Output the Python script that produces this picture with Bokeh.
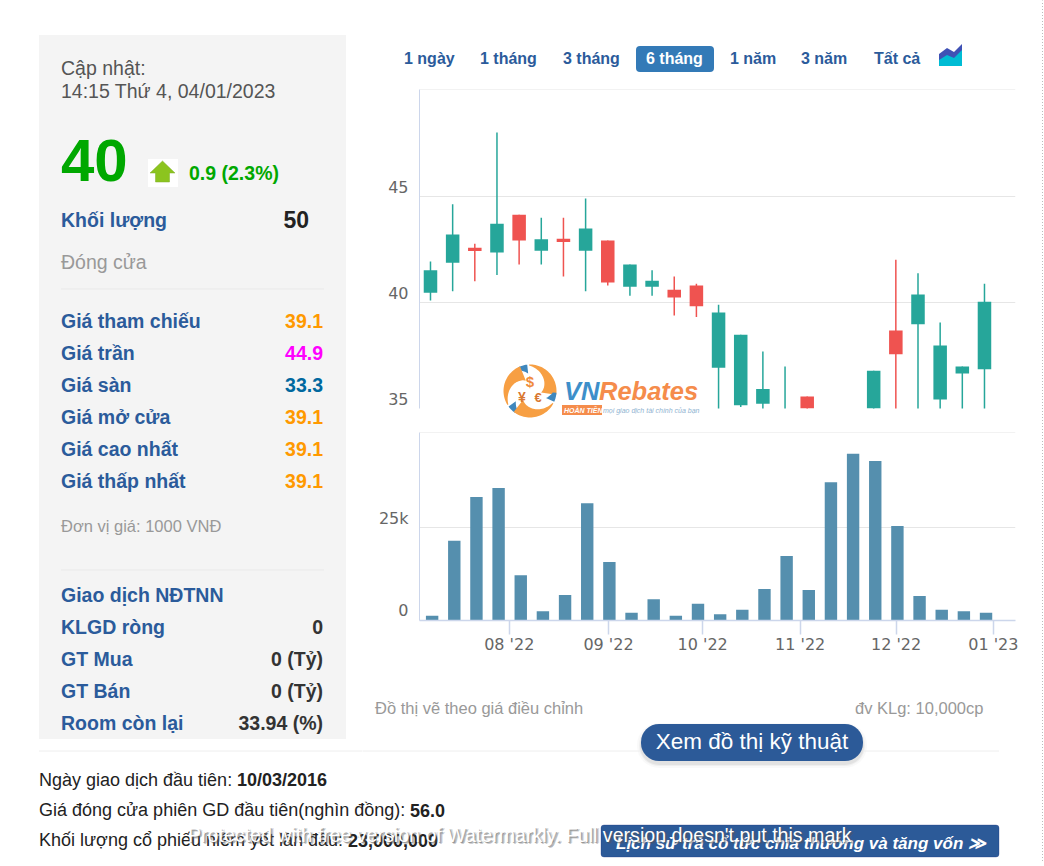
import numpy as np
from bokeh.plotting import figure
from bokeh.layouts import column, row
from bokeh.models import Range1d, FixedTicker, Span, BoxAnnotation, LinearAxis
from bokeh.core.properties import value
from bokeh.embed import file_html
from bokeh.resources import INLINE

# ---------- data ----------
opens  = [40.47,41.89,42.60,42.38,44.16,42.46,43.02,42.46,42.94,40.76,40.76,40.61,40.82,
          36.93,35.15,35.23,33.90,35.57,34.20,33.60,34.20,38.69,38.98,35.43,36.65,36.85]
closes = [41.53,43.23,42.44,43.73,42.94,43.00,42.87,43.51,40.96,41.81,41.04,40.25,39.83,
          39.54,38.49,35.92,34.70,34.60,33.60,33.10,36.79,37.56,40.39,37.98,36.99,40.05]
highs  = [41.95,44.65,42.79,48.05,44.16,44.02,44.02,44.93,42.94,41.81,41.53,41.24,40.90,
          39.90,38.49,37.70,36.99,35.57,34.40,33.80,36.79,42.03,41.39,39.06,36.99,40.90]
lows   = [40.11,40.54,41.02,41.31,41.81,41.81,41.24,40.54,40.82,40.33,40.33,39.40,39.32,
          34.50,35.07,34.60,33.50,34.30,33.30,32.90,33.60,34.50,34.80,34.90,34.90,34.90]
volumes = [1260,21500,33300,35700,12200,2500,6900,31600,15800,2100,5750,1260,4500,
           1700,2900,8500,17400,8200,37300,45000,43000,25500,6600,2900,2500,2100]
price_ticks = [35, 40, 45]
volume_ticks = [0, 25000]
volume_tick_labels = {0: "0", 25000: "25k"}
month_ticks = [3.48, 7.96, 12.21, 16.61, 20.94, 25.33]
month_labels = ["08 '22", "09 '22", "10 '22", "11 '22", "12 '22", "01 '23"]

tabs = ["1 ngày", "1 tháng", "3 tháng", "6 tháng", "1 năm", "3 năm", "Tất cả"]
tab_x = [404, 480, 563, 646, 730, 801, 874]

price_rows = ["Giá tham chiếu", "Giá trần", "Giá sàn", "Giá mở cửa", "Giá cao nhất", "Giá thấp nhất"]
price_vals = ["39.1", "44.9", "33.3", "39.1", "39.1", "39.1"]
price_cols = ["#ff9900", "#ff00ff", "#00689f", "#ff9900", "#ff9900", "#ff9900"]
foreign_rows = ["KLGD ròng", "GT Mua", "GT Bán", "Room còn lại"]
foreign_vals = ["0", "0 (Tỷ)", "0 (Tỷ)", "33.94 (%)"]

GREEN, RED = "#26a69a", "#ef5350"
BLUE = "#2b5b9b"
SANS = "Liberation Sans"
AX = "DejaVu Sans"
LBL = 19.5


def panel(left, top, right, bottom, **kw):
    """A blank figure whose coordinates are page pixels."""
    p = figure(width=right - left, height=bottom - top, output_backend="svg", toolbar_location=None,
               x_range=Range1d(left + 0.5, right + 0.5), y_range=Range1d(bottom + 0.5, top + 0.5),
               min_border=0, outline_line_color=None, frame_align=False, **kw)
    p.axis.visible = False
    p.grid.visible = False
    return p


def txt(p, x, y, s, size, color, style="normal", align="left", font=SANS, alpha=1.0):
    p.text(x=[x], y=[y], text=[s], text_font=value(font), text_font_size=f"{size}px",
           text_color=color, text_font_style=style, text_align=align, text_baseline="middle",
           text_alpha=alpha)


def rbox(p, l, t, r, b, fill, radius=0, line=None, alpha=1.0):
    p.add_layout(BoxAnnotation(left=l, right=r, top=t, bottom=b, fill_color=fill, fill_alpha=alpha,
                               line_color=line, border_radius=int(round(radius)), level="underlay"))


def hr(p, x0, x1, y, color="#e9e9e9"):
    p.segment(x0=[x0], x1=[x1], y0=[y], y1=[y], line_color=color, line_width=1)


def style_value_axis(ax):
    ax.axis_line_color = "#ccd6eb"
    ax.major_tick_line_color = None
    ax.minor_tick_line_color = None
    ax.major_label_text_font = AX
    ax.major_label_text_font_size = "16px"
    ax.major_label_text_color = "#666666"
    ax.major_label_standoff = 5


# ---------- left panel ----------
lp = panel(0, 0, 362, 770)
lp.quad(left=[39], right=[346], top=[35], bottom=[739], fill_color="#f4f4f4", line_color=None)
txt(lp, 61, 68, "Cập nhật:", LBL, "#555555")
txt(lp, 61, 91, "14:15 Thứ 4, 04/01/2023", LBL, "#555555")
txt(lp, 61, 160, "40", 60, "#00a800", "bold")
lp.quad(left=[148], right=[178], top=[159], bottom=[187], fill_color="white", line_color=None)
lp.patch(x=[162.5, 175, 169.5, 169.5, 155.5, 155.5, 150], y=[161, 173, 173, 182, 182, 173, 173],
         fill_color="#8cc41f", line_color="#7fae2a", line_width=0.5)
txt(lp, 189, 173, "0.9 (2.3%)", 19.5, "#00a800", "bold")
txt(lp, 61, 220, "Khối lượng", LBL, BLUE, "bold")
txt(lp, 309, 219, "50", 23, "#222222", "bold", "right")
txt(lp, 61, 262, "Đóng cửa", LBL, "#999999")
hr(lp, 61, 324, 289)
for i, (name, val, col) in enumerate(zip(price_rows, price_vals, price_cols)):
    y = 321 + 32 * i
    txt(lp, 61, y, name, LBL, BLUE, "bold")
    txt(lp, 323, y, val, 19.5, col, "bold", "right")
txt(lp, 61, 526, "Đơn vị giá: 1000 VNĐ", 16.5, "#999999")
hr(lp, 61, 324, 570)
txt(lp, 61, 595, "Giao dịch NĐTNN", LBL, BLUE, "bold")
for i, (name, val) in enumerate(zip(foreign_rows, foreign_vals)):
    y = 627 + 32 * i
    txt(lp, 61, y, name, LBL, BLUE, "bold")
    txt(lp, 323, y, val, 19.5, "#333333", "bold", "right")
hr(lp, 39, 362, 751, "#eeeeee")

# ---------- tab strip ----------
hd = panel(362, 0, 1040, 85)
rbox(hd, 636, 46, 714, 72, "#337ab7", radius=4)
for label, x in zip(tabs, tab_x):
    txt(hd, x, 58.5, label, 16, "white" if label == "6 tháng" else BLUE, "bold")
hd.patch(x=[939, 939, 947, 954, 962, 962], y=[66, 54, 48, 52, 44, 66], fill_color="#3f51b5", line_color=None)
hd.patch(x=[939, 939, 947, 954, 962, 962], y=[66, 60, 55, 58, 50, 66], fill_color="#00bcd4", line_color=None)

# ---------- candlesticks ----------
X0, X1 = -0.496, 26.4
Y0, Y1 = 35.0, 50.08
LIFT = 10 / 21.16       # the axis labels sit above their grid lines
pp = figure(width=678, height=324, output_backend="svg", toolbar_location=None,
            x_range=Range1d(X0, X1), y_range=Range1d(Y0, Y1), frame_align=False,
            min_border_left=57, min_border_right=25, min_border_top=4, min_border_bottom=1,
            outline_line_color=None)
xs = list(range(len(opens)))
colors = [GREEN if c >= o else RED for o, c in zip(opens, closes)]
pp.xaxis.visible = False
pp.yaxis.visible = False
pp.xgrid.visible = False
pp.ygrid.ticker = FixedTicker(ticks=price_ticks)
pp.ygrid.grid_line_color = "#e6e6e6"
pp.add_layout(Span(location=Y1, dimension="width", line_color="#e6e6e6", line_width=1))
pp.extra_y_ranges = {"labels": Range1d(Y0 - LIFT, Y1 - LIFT)}
ya = LinearAxis(y_range_name="labels", ticker=FixedTicker(ticks=price_ticks))
style_value_axis(ya)
pp.add_layout(ya, "left")
# candles lying wholly under the axis floor are off the chart
wick_i = [i for i in xs if highs[i] > Y0]
body_i = [i for i in xs if max(opens[i], closes[i]) > Y0]
pp.segment(x0=wick_i, x1=wick_i, y0=[lows[i] for i in wick_i], y1=[highs[i] for i in wick_i],
           line_color=[colors[i] for i in wick_i], line_width=1.5)
pp.vbar(x=body_i, width=0.61, top=[max(opens[i], closes[i]) for i in body_i],
        bottom=[min(opens[i], closes[i]) for i in body_i],
        fill_color=[colors[i] for i in body_i], line_color=None)

# ---------- logo: a transparent panel laid over the foot of the price chart ----------
st = panel(362, 360, 1040, 425, margin=(-49, 0, 0, 0), background_fill_alpha=0, border_fill_alpha=0)
cx, cy, R = 530, 391, 26.5
for a0 in (92, 212, 332):
    th = np.radians(np.linspace(a0, a0 - 100, 30))
    rin = np.linspace(R - 1, R * 0.42, 30)
    ox = cx + R * np.cos(th)
    oy = cy - R * np.sin(th)
    ix = cx + rin[::-1] * np.cos(th[::-1])
    iy = cy - rin[::-1] * np.sin(th[::-1])
    st.patch(x=np.r_[ox, ix], y=np.r_[oy, iy], fill_color="#f79f43", line_color=None)
    ph = np.radians(np.linspace(a0 + 4, a0 + 24, 12))
    ox2 = cx + R * np.cos(ph)
    oy2 = cy - R * np.sin(ph)
    mid = np.linspace(0.66, 0.86, 12)
    ix2 = cx + (R * mid[::-1]) * np.cos(ph[::-1])
    iy2 = cy - (R * mid[::-1]) * np.sin(ph[::-1])
    st.patch(x=np.r_[ox2, ix2], y=np.r_[oy2, iy2], fill_color="#3f87bd", line_color=None)
st.quad(left=[562], right=[602], top=[405], bottom=[415], fill_color="#f58c4b", line_color=None)
txt(st, 530, 381, "$", 15, "#ef8a3c", "bold", "center")
txt(st, 522, 397, "¥", 14, "#d9772f", "bold", "center")
txt(st, 538, 397, "€", 13, "#d9772f", "bold", "center")
txt(st, 564, 391, "VN", 25.5, "#3d8fca", "bold italic")
txt(st, 599, 391, "Rebates", 25.5, "#f58c4b", "bold italic")
txt(st, 564, 410, "HOÀN TIỀN", 7, "white", "bold italic")
txt(st, 603, 410, "mọi giao dịch tài chính của bạn", 7, "#8fb3d1", "italic")

# ---------- volume ----------
V0, V1 = 0, 50700
VLIFT = 9.5 / 92.7 * 25000
vp = figure(width=678, height=235, output_backend="svg", toolbar_location=None,
            x_range=Range1d(-0.57, 26.33), y_range=Range1d(V0, V1), frame_align=False,
            min_border_left=57, min_border_right=25, min_border_top=7, min_border_bottom=40,
            outline_line_color=None)
vp.vbar(x=xs, width=0.56, top=volumes, bottom=0, fill_color="#558fae", line_color=None)
vp.yaxis.visible = False
vp.xgrid.visible = False
vp.ygrid.ticker = FixedTicker(ticks=volume_ticks)
vp.ygrid.grid_line_color = "#e6e6e6"
vp.add_layout(Span(location=V1, dimension="width", line_color="#e6e6e6", line_width=1))
vp.extra_y_ranges = {"labels": Range1d(V0 - VLIFT, V1 - VLIFT)}
ya = LinearAxis(y_range_name="labels", ticker=FixedTicker(ticks=volume_ticks),
                major_label_overrides=volume_tick_labels)
style_value_axis(ya)
vp.add_layout(ya, "left")
xa = vp.xaxis[0]
xa.ticker = FixedTicker(ticks=month_ticks)
xa.major_label_overrides = dict(zip(month_ticks, month_labels))
xa.axis_line_color = "#ccd6eb"
xa.axis_line_width = 1.5
xa.major_tick_line_color = "#ccd6eb"
xa.major_tick_line_width = 1.5
xa.major_tick_out = 14
xa.major_tick_in = 0
xa.minor_tick_line_color = None
xa.major_label_text_font = AX
xa.major_label_text_font_size = "16px"
xa.major_label_text_color = "#666666"
xa.major_label_standoff = 0

# ---------- caption and button ----------
cp = panel(362, 660, 1040, 770)
txt(cp, 375, 708, "Đồ thị vẽ theo giá điều chỉnh", 16.5, "#999999")
txt(cp, 855, 708, "đv KLg: 10,000cp", 16.5, "#999999")
hr(cp, 362, 641, 751, "#eeeeee")
hr(cp, 863, 999, 751, "#eeeeee")
for k, a in ((4, 0.025), (2, 0.04), (1, 0.05)):
    rbox(cp, 641 - k, 724 + 3 - k, 863 + k, 761 + 3 + k, "#000000", radius=18 + k, alpha=a)
rbox(cp, 641, 724, 863, 761, "#2c5a98", radius=18)
txt(cp, 752, 741, "Xem đồ thị kỹ thuật", 22.5, "white", "normal", "center")

# ---------- page edge, dotted ----------
sb = panel(1040, 0, 1044, 770)
sb.segment(x0=[1042.5], x1=[1042.5], y0=[0], y1=[771], line_color="#bbbbbb", line_width=1, line_dash="1 2")

# ---------- bottom block ----------
bp = panel(0, 770, 1044, 862)
bp.segment(x0=[1042.5], x1=[1042.5], y0=[770], y1=[863], line_color="#bbbbbb", line_width=1, line_dash="1 2")
txt(bp, 39, 780, "Ngày giao dịch đầu tiên:", 18, "#222222")
txt(bp, 237, 780, "10/03/2016", 18, "#222222", "bold")
txt(bp, 39, 810, "Giá đóng cửa phiên GD đầu tiên(nghìn đồng):", 18, "#222222")
txt(bp, 410, 810, "56.0", 18, "#222222", "bold")
txt(bp, 39, 840, "Khối lượng cổ phiếu niêm yết lần đầu:", 18, "#222222")
txt(bp, 348, 840, "23,000,000", 18, "#222222", "bold")
rbox(bp, 601, 825, 999, 857, "#2c5a98", radius=3, line="#1b2f7d")
txt(bp, 616, 843, "Lịch sử trả cổ tức chia thưởng và tăng vốn ≫", 17, "white", "bold italic")
WM = "Protected with free version of Watermarkly. Full version doesn't put this mark"
for ox, oy, a in ((2, 2, 0.3), (1, 1, 0.45), (3, 1, 0.2)):
    txt(bp, 188 + ox, 835 + oy, WM, 19.6, "#555555", alpha=a)
txt(bp, 188, 835, WM, 19.6, "white")

page = column(row(lp, column(hd, pp, st, vp, cp), sb), bp)
open("out.html", "w").write(file_html(page, INLINE))
